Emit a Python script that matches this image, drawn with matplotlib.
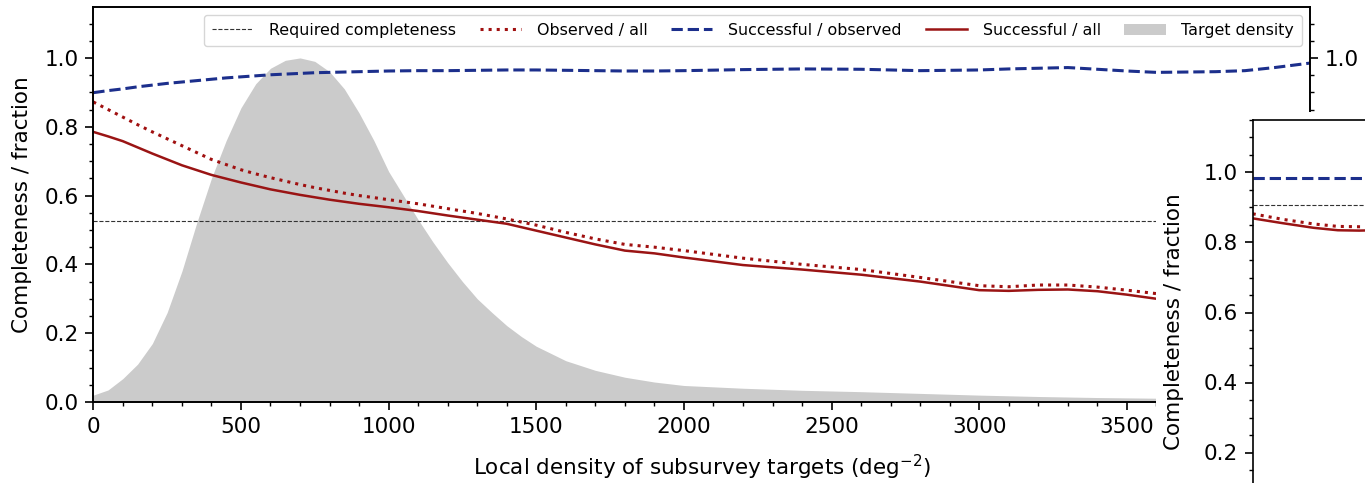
import matplotlib
matplotlib.use("Agg")
import matplotlib.pyplot as plt
from matplotlib.patches import Rectangle
from matplotlib.ticker import MultipleLocator

# Local target density (deg^-2) sampled along the completeness curves
density = [0, 50, 100, 150, 200, 250, 300, 350, 400, 450, 500, 550, 600, 650,
           700, 750, 800, 850, 900, 950, 1000, 1100, 1200, 1300, 1400, 1500,
           1600, 1700, 1800, 1900, 2000, 2200, 2400, 2600, 2800, 3000, 3100,
           3200, 3300, 3400, 3500, 3600, 3800, 3900, 4000, 4120]

successful_observed = [0.899, 0.905, 0.910, 0.916, 0.921, 0.926, 0.930, 0.934,
                       0.938, 0.942, 0.945, 0.948, 0.951, 0.953, 0.955, 0.957,
                       0.958, 0.959, 0.960, 0.961, 0.962, 0.963, 0.963, 0.964,
                       0.965, 0.965, 0.964, 0.963, 0.962, 0.962, 0.963, 0.966,
                       0.968, 0.967, 0.963, 0.965, 0.968, 0.970, 0.972, 0.967,
                       0.962, 0.958, 0.960, 0.963, 0.972, 0.985]

observed_all = [0.872, 0.850, 0.828, 0.806, 0.785, 0.765, 0.745, 0.725, 0.705,
                0.690, 0.675, 0.663, 0.652, 0.642, 0.632, 0.623, 0.615, 0.607,
                0.600, 0.594, 0.588, 0.576, 0.562, 0.548, 0.532, 0.514, 0.493,
                0.474, 0.458, 0.450, 0.440, 0.418, 0.400, 0.385, 0.362, 0.338,
                0.335, 0.340, 0.340, 0.334, 0.325, 0.315, 0.305, 0.300, 0.296,
                0.292]

successful_all = [0.785, 0.772, 0.758, 0.740, 0.722, 0.705, 0.688, 0.674, 0.660,
                  0.649, 0.638, 0.628, 0.618, 0.610, 0.602, 0.595, 0.588, 0.582,
                  0.576, 0.571, 0.566, 0.555, 0.542, 0.530, 0.518, 0.498, 0.478,
                  0.458, 0.440, 0.432, 0.420, 0.398, 0.385, 0.370, 0.350, 0.325,
                  0.323, 0.326, 0.327, 0.322, 0.312, 0.300, 0.290, 0.286, 0.282,
                  0.278]

# Normalised distribution of target density
density_hist = [0, 50, 100, 150, 200, 250, 300, 350, 400, 450, 500, 550, 600,
                650, 700, 750, 800, 850, 900, 950, 1000, 1050, 1100, 1150,
                1200, 1250, 1300, 1350, 1400, 1450, 1500, 1600, 1700, 1800,
                1900, 2000, 2200, 2400, 2600, 2800, 3000, 3200, 3400, 3600,
                3800, 4000, 4120]
target_density = [0.020, 0.035, 0.068, 0.110, 0.170, 0.260, 0.380, 0.520,
                  0.650, 0.760, 0.855, 0.925, 0.970, 0.993, 1.000, 0.990,
                  0.960, 0.910, 0.840, 0.760, 0.670, 0.600, 0.530, 0.465,
                  0.405, 0.350, 0.300, 0.260, 0.222, 0.190, 0.162, 0.120,
                  0.092, 0.072, 0.058, 0.048, 0.040, 0.034, 0.030, 0.025,
                  0.020, 0.016, 0.013, 0.011, 0.010, 0.009, 0.008]

required_completeness = 0.525

# Second subsurvey panel
density_b = [0, 100, 200, 280, 350, 400, 500]
successful_observed_b = [0.985, 0.985, 0.985, 0.985, 0.985, 0.985, 0.985]
observed_all_b = [0.882, 0.866, 0.853, 0.846, 0.845, 0.845, 0.846]
successful_all_b = [0.869, 0.855, 0.842, 0.835, 0.834, 0.835, 0.836]
required_completeness_b = 0.906

BLUE = "#1c2f8c"
RED = "#a01010"
DARKRED = "#9a1414"
GREY = "#cbcbcb"
FS = 15.5

plt.rcParams.update({
    "font.family": "DejaVu Sans",
    "font.size": FS,
    "axes.linewidth": 1.2,
    "xtick.major.width": 1.2, "ytick.major.width": 1.2,
    "xtick.minor.width": 1.0, "ytick.minor.width": 1.0,
    "xtick.major.size": 6.0, "ytick.major.size": 6.0,
    "xtick.minor.size": 3.2, "ytick.minor.size": 3.2,
    "xtick.major.pad": 4.5, "ytick.major.pad": 4.5,
})

W, H = 1365, 483
fig = plt.figure(figsize=(W / 100, H / 100), dpi=100)


def px_axes(left, right, top, bottom):
    return [left / W, (H - bottom) / H, (right - left) / W, (bottom - top) / H]


def style_y(ax):
    ax.yaxis.set_major_locator(MultipleLocator(0.2))
    ax.yaxis.set_minor_locator(MultipleLocator(0.05))


# Main panel
ax = fig.add_axes(px_axes(93.3, 1310, 7, 402))
ax.fill_between(density_hist, 0, target_density, color=GREY, lw=0,
                label="Target density")
ax.axhline(required_completeness, color="#333333", ls="--", lw=0.8,
           label="Required completeness")
ax.plot(density, observed_all, color=RED, ls=":", lw=2.2, label="Observed / all")
ax.plot(density, successful_observed, color=BLUE, ls="--", lw=2.2,
        label="Successful / observed")
ax.plot(density, successful_all, color=DARKRED, ls="-", lw=1.8,
        label="Successful / all")
ax.set_xlim(0, 4120)
ax.set_ylim(0, 1.148)
ax.xaxis.set_major_locator(MultipleLocator(500))
ax.xaxis.set_minor_locator(MultipleLocator(100))
style_y(ax)
ax.set_xlabel("Local density of subsurvey targets (deg$^{-2}$)", labelpad=12)
ax.set_ylabel("Completeness / fraction", labelpad=9)

handles, labels = ax.get_legend_handles_labels()
order = ["Required completeness", "Observed / all", "Successful / observed",
         "Successful / all", "Target density"]
hmap = dict(zip(labels, handles))
ax.legend([hmap[k] for k in order], order, loc="upper right", ncol=5,
          fontsize=11.4, handlelength=2.6, handletextpad=1.0,
          columnspacing=1.5, borderpad=0.5, framealpha=0.8)

axr = ax.twinx()
axr.set_ylim(ax.get_ylim())
style_y(axr)

# White backing for the second panel
fig.patches.append(Rectangle((1156 / W, 0), 1, (H - 112) / H,
                             transform=fig.transFigure, facecolor="white",
                             edgecolor="none", zorder=1))

# Second panel
ax2 = fig.add_axes(px_axes(1252.7, 1252.7 + 1217, 120, 522.5), zorder=2)
ax2.axhline(required_completeness_b, color="#333333", ls="--", lw=0.8)
ax2.plot(density_b, observed_all_b, color=RED, ls=":", lw=2.2)
ax2.plot(density_b, successful_observed_b, color=BLUE, ls="--", lw=2.2)
ax2.plot(density_b, successful_all_b, color=DARKRED, ls="-", lw=1.8)
ax2.set_xlim(0, 4000)
ax2.set_ylim(0, 1.15)
ax2.set_yticks([0.2, 0.4, 0.6, 0.8, 1.0])
ax2.yaxis.set_minor_locator(MultipleLocator(0.05))
ax2.tick_params(axis="x", labelbottom=False)
ax2.set_ylabel("Completeness / fraction", labelpad=14)

fig.savefig("out.png", dpi=100)
